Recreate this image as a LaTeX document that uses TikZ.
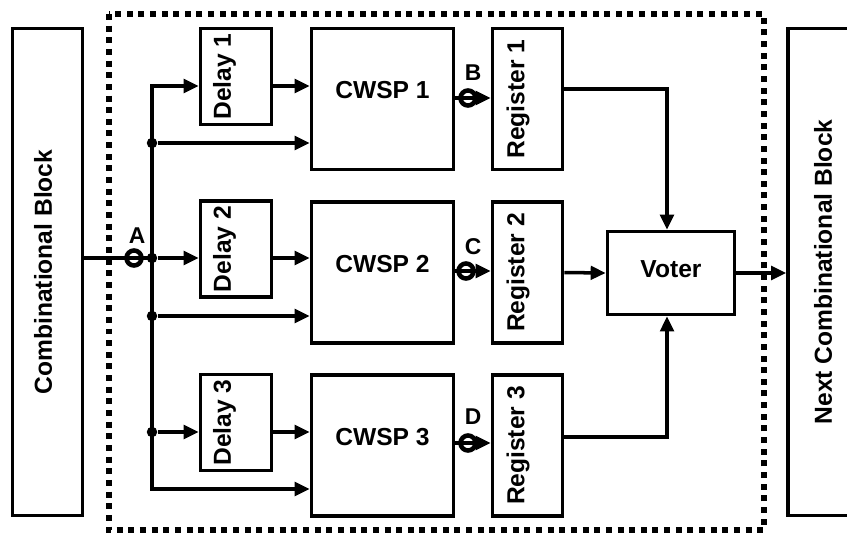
\documentclass[tikz,border=0pt]{standalone}
\usepackage{fontspec}
\setmainfont{Liberation Sans}
\usetikzlibrary{arrows.meta}

\begin{document}
\begin{tikzpicture}[
    x=0.02cm, y=-0.02cm,
    font=\fontsize{14}{16}\selectfont\bfseries,
    block/.style={draw, line width=2.1pt, inner sep=0pt},
    edgeblock/.style={block, rotate=90, minimum width=9.74cm, minimum height=1.4cm},
    delaybox/.style={block, rotate=90, minimum width=1.92cm, minimum height=1.42cm, text depth=0.56cm},
    cwspbox/.style={block, minimum width=2.84cm, minimum height=2.82cm, text depth=0.36cm},
    regbox/.style={block, rotate=90, minimum width=2.82cm, minimum height=1.4cm, text depth=0.48cm},
    voterbox/.style={block, minimum width=2.54cm, minimum height=1.66cm, text depth=0.16cm},
    tap/.style={circle, draw, line width=2.6pt, minimum size=0.3cm, inner sep=0pt},
    taplabel/.style={font=\fontsize{13}{15}\selectfont\bfseries},
    junction/.style={circle, fill, minimum size=0.21cm, inner sep=0pt},
    wire/.style={line width=2pt, line cap=rect},
    arrow/.style={-{Triangle[length=0.3cm, width=0.27cm]}, line width=2pt},
    dottedframe/.style={line width=0.12cm, dash pattern=on 0.12cm off 0.113cm}
  ]
    \useasboundingbox (0,0) rectangle (847,535);

    % redundant stage
    \draw[dottedframe] (108.5,14) rectangle (763.5,530);

    \node[edgeblock, text depth=0.18cm] (comb) at (47.5,272) {Combinational Block};
    \node[edgeblock] (next) at (823,272) {Next Combinational Block};

    \node[delaybox] (delay1) at (236,76.5) {Delay 1};
    \node[delaybox] (delay2) at (236,249) {Delay 2};
    \node[delaybox] (delay3) at (236,422.5) {Delay 3};

    \node[cwspbox] (cwsp1) at (382.5,99) {CWSP 1};
    \node[cwspbox] (cwsp2) at (382.5,272.5) {CWSP 2};
    \node[cwspbox] (cwsp3) at (382.5,445.5) {CWSP 3};

    \node[regbox] (reg1) at (527.5,99) {Register 1};
    \node[regbox] (reg2) at (527.5,272.5) {Register 2};
    \node[regbox] (reg3) at (527.5,445.5) {Register 3};

    \node[voterbox] (voter) at (671,273) {Voter};

    % observation points
    \node[tap] (tapA) at (134,258) {};
    \node[taplabel] (labelA) at (137,236) {A};
    \node[tap] (tapB) at (468,98) {};
    \node[taplabel] (labelB) at (473,73) {B};
    \node[tap] (tapC) at (466,271) {};
    \node[taplabel] (labelC) at (473,247) {C};
    \node[tap] (tapD) at (468,443) {};
    \node[taplabel] (labelD) at (473,417) {D};

    % fan-out bus
    \coordinate (bustop) at (152,86);
    \node[junction] (j1) at (152,143) {};
    \node[junction] (j2) at (152,258) {};
    \node[junction] (j3) at (152,316) {};
    \node[junction] (j4) at (152,432) {};
    \coordinate (busbot) at (152,489);

    \draw[wire] (comb.south |- tapA) -- (j2.center);
    \draw[wire] (bustop) -- (busbot);

    \draw[arrow] (bustop) -- (bustop -| delay1.north);
    \draw[arrow] (j1) -- (j1 -| cwsp1.west);
    \draw[arrow] (j2) -- (j2 -| delay2.north);
    \draw[arrow] (j3) -- (j3 -| cwsp2.west);
    \draw[arrow] (j4) -- (j4 -| delay3.north);
    \draw[arrow] (busbot) -- (busbot -| cwsp3.west);

    \draw[arrow] (delay1.south |- bustop) -- (cwsp1.west |- bustop);
    \draw[arrow] (delay2.south |- j2) -- (cwsp2.west |- j2);
    \draw[arrow] (delay3.south |- j4) -- (cwsp3.west |- j4);

    \draw[arrow] (cwsp1.east |- tapB) -- (reg1.north |- tapB);
    \draw[arrow] (cwsp2.east |- tapC) -- (reg2.north |- tapC);
    \draw[arrow] (cwsp3.east |- tapD) -- (reg3.north |- tapD);

    \draw[arrow] ([yshift=0.2cm]reg1.south) -| ([xshift=-0.08cm]voter.north);
    \draw[arrow] (reg2.south) -- (voter.west);
    \draw[arrow] ([yshift=0.17cm]reg3.south) -| ([xshift=-0.08cm]voter.south);

    \draw[arrow] (voter.east) -- (voter.east -| next.north);
\end{tikzpicture}
\end{document}
